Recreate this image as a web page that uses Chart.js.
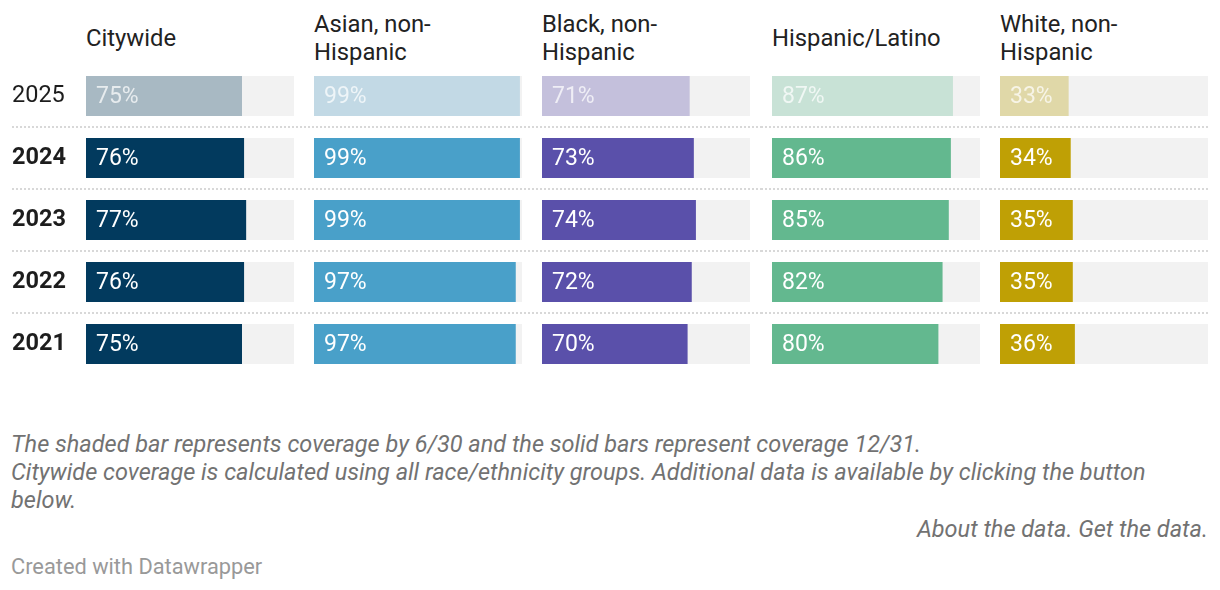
<!DOCTYPE html>
<html>
<head>
<meta charset="utf-8">
<script src="https://cdn.jsdelivr.net/npm/chart.js@4"></script>
<style>
  body { margin: 0; width: 1220px; height: 590px; background: #fff; font-family: Roboto, sans-serif; position: relative; overflow: hidden; }
  .head { position: absolute; top: 10px; height: 56px; display: flex; align-items: center; font-size: 23.8px; line-height: 28px; color: #222; white-space: nowrap; }
  .col { position: absolute; top: 65px; height: 310px; }
  .note { position: absolute; left: 11px; top: 430px; width: 1196px; font-size: 23.5px; line-height: 28px; font-style: italic; color: #727272; }
  .links { position: absolute; right: 12px; top: 515px; font-size: 23.5px; line-height: 28px; font-style: italic; color: #727272; }
  .credit { position: absolute; left: 11px; top: 554px; font-size: 21.8px; line-height: 26px; color: #999; }
</style>
</head>
<body>
<div id="heads"></div>
<div id="cols"></div>
<div class="note">The shaded bar represents coverage by 6/30 and the solid bars represent coverage 12/31.<br>Citywide coverage is calculated using all race/ethnicity groups. Additional data is available by clicking the button below.</div>
<div class="links">About the data. Get the data.</div>
<div class="credit">Created with Datawrapper</div>
<script>
'use strict'
const years = ['2025', '2024', '2023', '2022', '2021'];
const groups = ['Citywide', 'Asian, non-\nHispanic', 'Black, non-\nHispanic', 'Hispanic/Latino', 'White, non-\nHispanic'];
const citywide = [75, 76, 77, 76, 75];
const asian = [99, 99, 99, 97, 97];
const black = [71, 73, 74, 72, 70];
const hispanic = [87, 86, 85, 82, 80];
const white = [33, 34, 35, 35, 36];
const track = [100, 100, 100, 100, 100];

const series = [citywide, asian, black, hispanic, white];
const solid = ['#023a5e', '#49a0c9', '#5a50aa', '#63b88f', '#bfa005'];
const shaded = ['#a8b9c3', '#c2d9e5', '#c4c0dc', '#c8e2d6', '#e0d8a8'];

// canvas boxes, plot area = left+padL .. left+width-padR
const boxes = [
    { left: 0, width: 304, padL: 12, padR: 10 },
    { left: 304, width: 228, padL: 10, padR: 10 },
    { left: 532, width: 229, padL: 10, padR: 11 },
    { left: 761, width: 229, padL: 11, padR: 10 },
    { left: 990, width: 230, padL: 10, padR: 12 }
];

const rowLines = {
    id: 'rowLines',
    beforeDatasetsDraw(chart, args, opts) {
        let y = chart.scales.y;
        let c = chart.ctx;
        c.save();
        c.strokeStyle = '#cccccc';
        c.lineWidth = 1.5;
        c.setLineDash([2, 2]);
        for (let i = 1; i < y.ticks.length; i++) {
            let py = Math.round((y.getPixelForTick(i - 1) + y.getPixelForTick(i)) / 2);
            c.beginPath();
            c.moveTo(opts.x0, py);
            c.lineTo(chart.width - opts.x1, py);
            c.stroke();
        }
        c.restore();
    },
    afterDatasetsDraw(chart) {
        let meta = chart.getDatasetMeta(0);
        let values = chart.data.datasets[0].data;
        let c = chart.ctx;
        c.save();
        c.font = '23px Roboto';
        c.textBaseline = 'middle';
        meta.data.forEach((bar, i) => {
            c.fillStyle = i === 0 ? 'rgba(255,255,255,0.72)' : '#ffffff';
            c.fillText(values[i] + '%', bar.base + 10, bar.y + 1);
        });
        c.restore();
    }
};

groups.forEach((name, k) => {
    let b = boxes[k];
    let h = document.createElement('div');
    h.className = 'head';
    h.style.left = (b.left + b.padL + (k === 0 ? 74 : 0)) + 'px';
    h.innerHTML = name.replace('\n', '<br>');
    document.getElementById('heads').appendChild(h);

    let wrap = document.createElement('div');
    wrap.className = 'col';
    wrap.style.left = b.left + 'px';
    wrap.style.width = b.width + 'px';
    let cv = document.createElement('canvas');
    wrap.appendChild(cv);
    document.getElementById('cols').appendChild(wrap);

    new Chart(cv, {
        type: 'bar',
        data: {
            labels: years,
            datasets: [{
                data: series[k],
                backgroundColor: years.map((y, i) => i === 0 ? shaded[k] : solid[k]),
                grouped: false,
                barPercentage: 40 / 62,
                categoryPercentage: 1
            },
            {
                data: track,
                backgroundColor: '#f2f2f2',
                grouped: false,
                barPercentage: 40 / 62,
                categoryPercentage: 1
            }]
        },
        options: {
            indexAxis: 'y',
            responsive: true,
            maintainAspectRatio: false,
            animation: false,
            layout: { padding: { left: b.padL, right: b.padR, top: 0, bottom: 0 } },
            scales: {
                x: { display: false, min: 0, max: 100 },
                y: {
                    display: k === 0,
                    grid: { display: false },
                    border: { display: false },
                    ticks: {
                        crossAlign: 'far',
                        color: '#1d1d1d',
                        padding: 0,
                        font: (ctx) => ({ family: 'Roboto', size: 23.5, weight: ctx.index === 0 ? 'normal' : 'bold' })
                    },
                    afterFit: (scale) => {
                        if (k !== 0) return;
                        scale.width = 74;
                        scale.paddingTop = 0;
                        scale.paddingBottom = 0;
                    }
                }
            },
            plugins: {
                legend: { display: false },
                tooltip: { enabled: false },
                rowLines: { x0: k === 0 ? 12 : 0, x1: k === 4 ? 12 : 0 }
            }
        },
        plugins: [rowLines]
    });
});
</script>
</body>
</html>
